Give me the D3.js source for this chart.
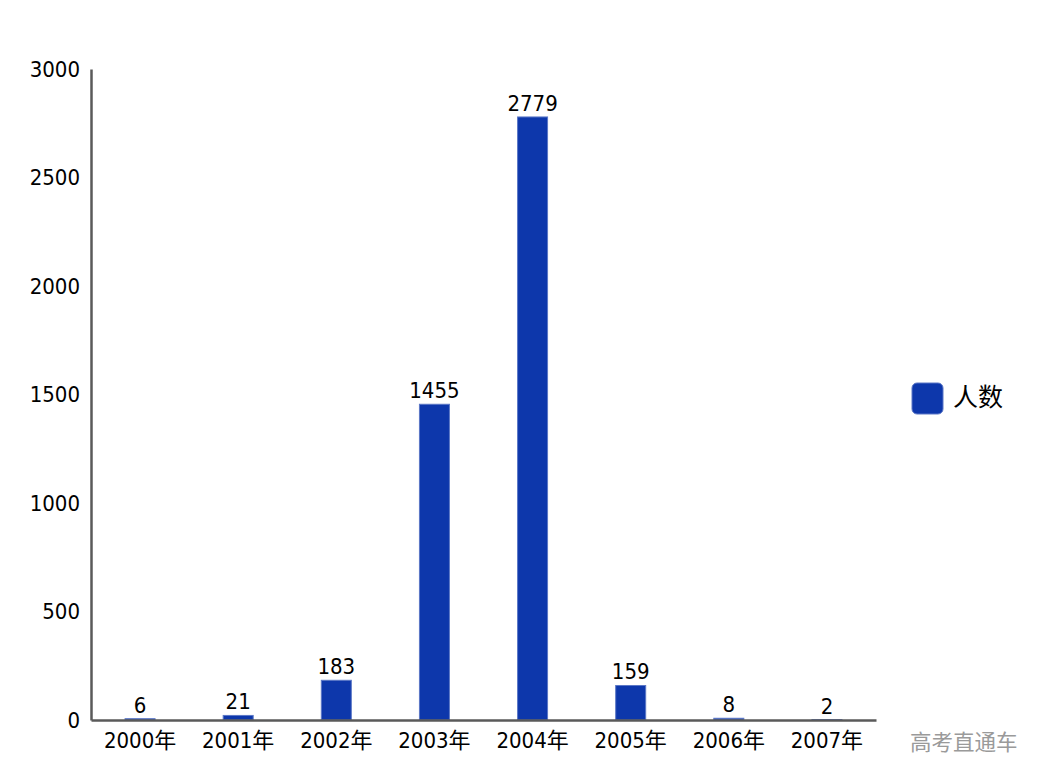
<!DOCTYPE html>
<html>
<head>
<meta charset="utf-8">
<script src="https://cdn.jsdelivr.net/npm/d3@7"></script>
<style>
  body { margin: 0; background: #fff; }
  text { font-family: "DejaVu Sans Condensed", "Noto Sans CJK SC", sans-serif; }
</style>
</head>
<body>
<svg id="chart" width="1047" height="782"></svg>
<script>
// ── Data ─────────────────────────────────────────────
const years = ['2000年', '2001年', '2002年', '2003年', '2004年', '2005年', '2006年', '2007年'];
const counts = [6, 21, 183, 1455, 2779, 159, 8, 2];
const yTicks = [0, 500, 1000, 1500, 2000, 2500, 3000];
const seriesName = '人数';
const watermark = '高考直通车';

// ── Layout ───────────────────────────────────────────
const M = { left: 91, right: 876, top: 69, bottom: 720 };
const BAR = '#0d37ab';
const AXIS = '#5a5a5a';
const FONT = '"DejaVu Sans Condensed", "Noto Sans CJK SC", sans-serif';

const svg = d3.select('#chart');

const x = d3.scaleBand().domain(years).range([M.left, M.right]).paddingInner(0).paddingOuter(0);
const y = d3.scaleLinear().domain([0, 3000]).range([M.bottom, M.top]);
const bw = 30;

// bars
svg.append('g').selectAll('rect')
  .data(counts)
  .join('rect')
  .attr('x', (d, i) => x(years[i]) + x.bandwidth() / 2 - bw / 2)
  .attr('y', d => y(d))
  .attr('width', bw)
  .attr('height', d => y(0) - y(d))
  .attr('fill', BAR)
  .attr('stroke', '#5b77c6')
  .attr('stroke-width', 1);

// value labels
svg.append('g').selectAll('text')
  .data(counts)
  .join('text')
  .attr('x', (d, i) => x(years[i]) + x.bandwidth() / 2)
  .attr('y', d => y(d) - 6)
  .attr('text-anchor', 'middle')
  .attr('font-size', 22)
  .attr('font-family', FONT)
  .attr('fill', '#000')
  .text(d => d);

// y axis
const yAxis = svg.append('g')
  .attr('transform', `translate(${M.left},0)`)
  .call(d3.axisLeft(y).tickValues(yTicks).tickFormat(d3.format('d')).tickSize(0).tickPadding(11));
yAxis.select('.domain').attr('stroke', AXIS).attr('stroke-width', 2.5);
yAxis.selectAll('text').attr('font-size', 22).attr('fill', '#000')
  .attr('font-family', FONT);

// x axis
const xAxis = svg.append('g')
  .attr('transform', `translate(0,${M.bottom})`)
  .call(d3.axisBottom(x).tickSize(0).tickPadding(12));
xAxis.select('.domain').attr('stroke', AXIS).attr('stroke-width', 2.5);
xAxis.selectAll('text').attr('font-size', 22).attr('fill', '#000')
  .attr('font-family', FONT);

// legend
const lg = svg.append('g').attr('transform', 'translate(912,383)');
lg.append('rect')
  .attr('width', 31).attr('height', 31).attr('rx', 5)
  .attr('fill', BAR).attr('stroke', '#5b77c6').attr('stroke-width', 1);
lg.append('text')
  .attr('x', 41).attr('y', 16)
  .attr('dominant-baseline', 'middle')
  .attr('font-size', 25)
  .attr('font-family', FONT)
  .text(seriesName);

// watermark
svg.append('text')
  .attr('x', 910).attr('y', 750)
  .attr('font-size', 21.5)
  .attr('fill', '#9a9a9a')
  .attr('font-family', '"Noto Sans CJK SC", sans-serif')
  .text(watermark);
</script>
</body>
</html>
